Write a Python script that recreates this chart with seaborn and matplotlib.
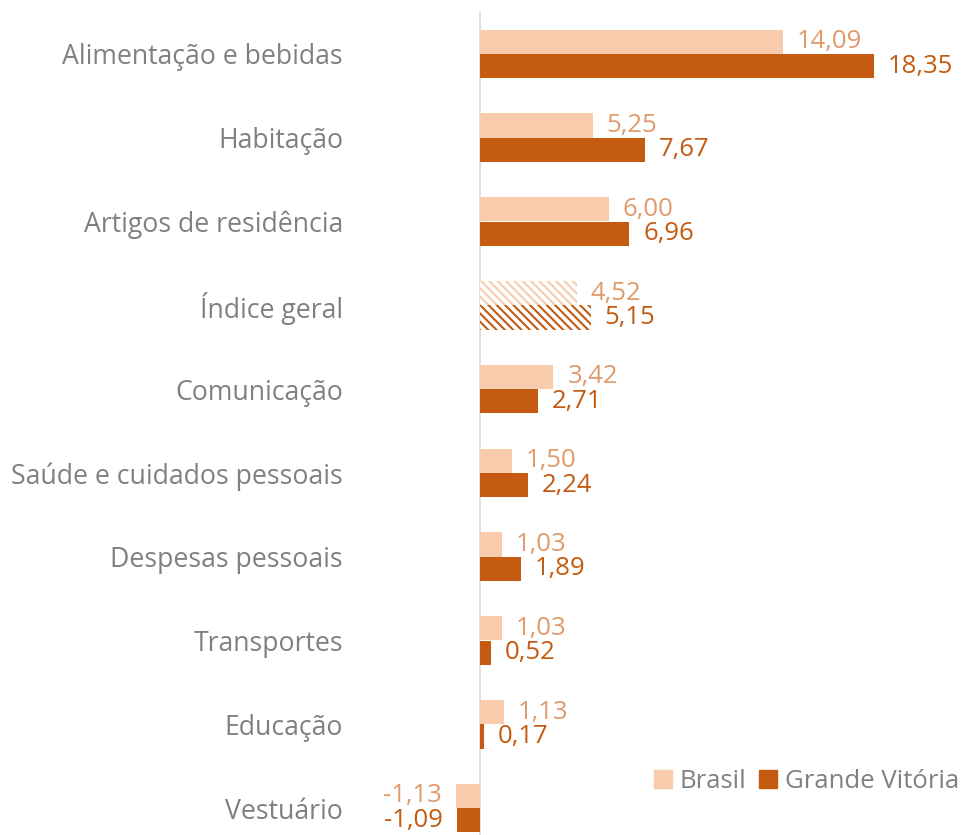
import pandas as pd
import numpy as np
import matplotlib
matplotlib.use("Agg")
import matplotlib.pyplot as plt
import seaborn as sns

# Dados
categorias = ["Alimentação e bebidas", "Habitação", "Artigos de residência",
              "Índice geral", "Comunicação", "Saúde e cuidados pessoais",
              "Despesas pessoais", "Transportes", "Educação", "Vestuário"]
brasil = [14.09, 5.25, 6.00, 4.52, 3.42, 1.50, 1.03, 1.03, 1.13, -1.13]
grande_vitoria = [18.35, 7.67, 6.96, 5.15, 2.71, 2.24, 1.89, 0.52, 0.17, -1.09]
series = ["Brasil", "Grande Vitória"]

cor_br = "#F8CBAD"
cor_gv = "#C55A11"
cor_label_br = "#E09A6C"
cor_texto = "#808080"

df = pd.DataFrame({
    "categoria": categorias * 2,
    "valor": brasil + grande_vitoria,
    "serie": [series[0]] * len(brasil) + [series[1]] * len(grande_vitoria),
})

sns.set_style("white")
plt.rcParams["font.family"] = ["Open Sans", "DejaVu Sans"]
plt.rcParams["hatch.linewidth"] = 1.5

fs = 18.5

fig = plt.figure(figsize=(9.61, 8.35), dpi=100)
ax = fig.add_axes([350 / 961, 0, 611 / 961, (835 - 12) / 835])

sns.barplot(data=df, y="categoria", x="valor", hue="serie", orient="h",
            palette=[cor_br, cor_gv], saturation=1, width=0.58, linewidth=0,
            ax=ax, order=categorias, hue_order=series)

# escala
ax.set_xlim((350 - 480) / 21.47, (961 - 480) / 21.47)
ax.set_ylim(9.5 - 15 / 83.8, -0.5)
ax.axvline(0, color="#D9D9D9", lw=1.2, zorder=0)

for s in ax.spines.values():
    s.set_visible(False)
ax.set_xticks([])
ax.set_xlabel("")
ax.set_ylabel("")
ax.tick_params(axis="y", length=0, pad=5, labelsize=19.2, labelcolor=cor_texto)

# Índice geral hachurado
idx = categorias.index("Índice geral")
for cont, cor in zip(ax.containers, [cor_br, cor_gv]):
    p = cont.patches[idx]
    p.set_facecolor("white")
    p.set_edgecolor(cor)
    p.set_hatch("\\\\\\\\")
    p.set_linewidth(0)

# rótulos
for cont, cor in zip(ax.containers, [cor_label_br, cor_gv]):
    labels = [f"{v:.2f}".replace(".", ",") for v in cont.datavalues]
    ax.bar_label(cont, labels=labels, padding=10, fontsize=fs, color=cor)

ax.get_legend().remove()
handles = [plt.Rectangle((0, 0), 1, 1, color=cor_br),
           plt.Rectangle((0, 0), 1, 1, color=cor_gv)]
fig.legend(handles, series, loc="center right", bbox_to_anchor=(1.022, 0.064),
           ncol=2, frameon=False, fontsize=fs, labelcolor=cor_texto,
           handlelength=0.7, handleheight=0.7, handletextpad=0.3,
           columnspacing=0.5)

fig.savefig("out.png", dpi=100)
